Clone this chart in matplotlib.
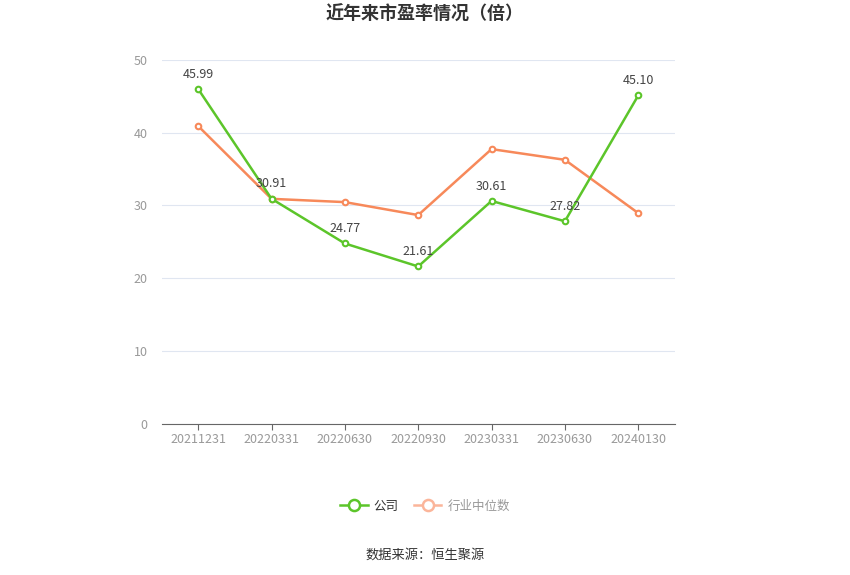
import matplotlib
matplotlib.use("Agg")
import matplotlib.pyplot as plt
from matplotlib.lines import Line2D

plt.rcParams['font.family'] = ['Noto Sans CJK SC', 'DejaVu Sans']

# 数据
dates = ["20211231", "20220331", "20220630", "20220930", "20230331", "20230630", "20240130"]
company = [45.99, 30.91, 24.77, 21.61, 30.61, 27.82, 45.10]
industry = [40.9, 30.9, 30.45, 28.67, 37.73, 36.26, 28.94]
yticks = [0, 10, 20, 30, 40, 50]

green = "#5cc52a"
orange = "#f7895a"

fig = plt.figure(figsize=(8.5, 5.75), dpi=100)
ax = fig.add_axes([0.19, 0.263, 0.604, 0.633])

x = list(range(len(dates)))
ax.plot(x, company, color=green, lw=1.8, marker="o", ms=4,
        mfc="white", mec=green, mew=1.5, zorder=3)
ax.plot(x, industry, color=orange, lw=1.8, marker="o", ms=4,
        mfc="white", mec=orange, mew=1.5, zorder=2)

for xi, v in zip(x, company):
    ax.annotate(f"{v:.2f}", (xi, v), xytext=(0, 6), textcoords="offset points",
                ha="center", va="bottom", fontsize=9, color="#444444", zorder=4)

ax.set_xlim(-0.5, len(dates) - 0.5)
ax.set_ylim(0, 50)
ax.set_yticks(yticks)
ax.set_xticks(x)
ax.set_xticklabels(dates)
ax.tick_params(axis="y", length=0, labelsize=9, labelcolor="#999999", pad=10)
ax.tick_params(axis="x", length=4, color="#666666", labelsize=9, labelcolor="#999999", pad=3)
ax.grid(axis="y", color="#e0e6f1", lw=0.8)
ax.set_axisbelow(True)
for s in ["top", "right", "left"]:
    ax.spines[s].set_visible(False)
ax.spines["bottom"].set_color("#666666")

fig.text(0.5, 0.976, "近年来市盈率情况（倍）", ha="center", va="center",
         fontsize=13, fontweight="bold", color="#333333")

handles = [
    Line2D([0], [0], color=green, lw=1.8, marker="o", ms=8, mfc="white", mec=green, mew=1.8),
    Line2D([0], [0], color="#fbb59a", lw=1.8, marker="o", ms=8, mfc="white", mec="#fbb59a", mew=1.8),
]
leg = fig.legend(handles, ["公司", "行业中位数"], loc="center", bbox_to_anchor=(0.5, 0.12),
                 ncol=2, frameon=False, fontsize=9, handlelength=2.2, columnspacing=1.2,
                 handletextpad=0.5)
leg.get_texts()[0].set_color("#333333")
leg.get_texts()[1].set_color("#999999")

fig.text(0.5, 0.035, "数据来源：恒生聚源", ha="center", va="center",
         fontsize=9.5, color="#333333")

fig.savefig("out.png", dpi=100)
